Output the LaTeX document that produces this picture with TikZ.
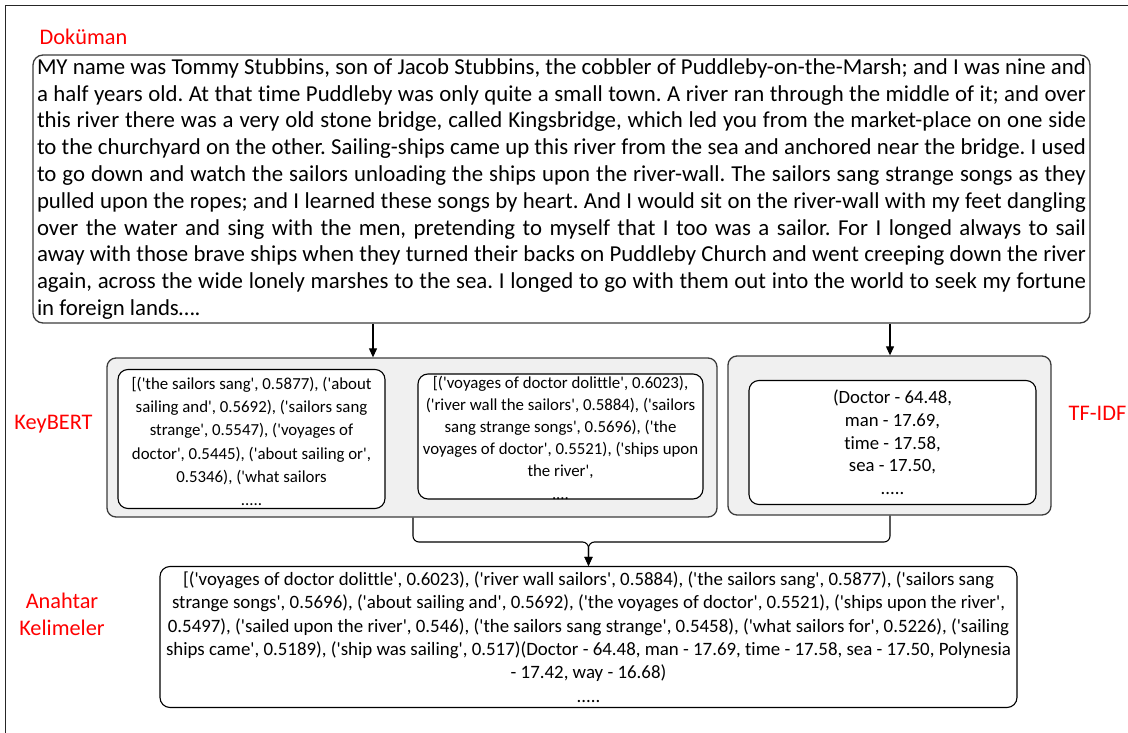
\documentclass[tikz,border=0pt]{standalone}
\usepackage{fontspec}
\setmainfont{Carlito}[Ligatures={TeXOff,NoCommon}]
\usetikzlibrary{arrows.meta}
\definecolor{labred}{RGB}{255,0,0}
\definecolor{boxgray}{RGB}{240,240,240}
\definecolor{edgegray}{RGB}{60,60,60}
\newlength\fitw
\newcommand\fitfont[3]{\settowidth\fitw{\fontsize{10pt}{12pt}\selectfont\frenchspacing #3}\pgfmathsetmacro#1{10*#2/\fitw}}
\AtBeginDocument{%
\frenchspacing
\fitfont\docsz{1048}{MY name was Tommy Stubbins, son of Jacob Stubbins, the cobbler of Puddleby-on-the-Marsh; and I was nine and}%
\fitfont\insz{240}{[('the sailors sang', 0.5877), ('about}%
\fitfont\tfsz{119}{(Doctor - 64.48,}%
\fitfont\botsz{845}{ships came', 0.5189), ('ship was sailing', 0.517)(Doctor - 64.48, man - 17.69, time - 17.58, sea - 17.50, Polynesia}%
}
\begin{document}
\begin{tikzpicture}[x=1pt,y=-1pt,
  lab/.style={text=labred, font=\fontsize{22.3pt}{27pt}\selectfont, inner sep=0pt, align=center},
  outerbox/.style={draw=edgegray, line width=1.3pt, rounded corners=9pt, fill=boxgray, inner sep=0pt},
  innerbox/.style={draw=black, line width=1.1pt, rounded corners=10pt, fill=white, inner sep=0pt, align=center},
  intext/.style={inner sep=0pt, align=center},
  conn/.style={draw=black, line width=1.1pt, rounded corners=6pt},
  arr/.style={conn, -{Triangle[length=9pt,width=8pt]}},
]
\useasboundingbox (0,0) rectangle (1128,733);
\clip (0,0) rectangle (1128,733);
% frame
\draw[line width=1.6pt, draw=black!85] (5.5,760) -- (5.5,5.5) -- (1160,5.5);
% labels
\node[lab] (ldoc) at (83.5,37) {Doküman};
\node[lab] (lkb) at (53.5,424) {KeyBERT};
\node[lab] (ltf) at (1097.5,413) {TF-IDF};
\node[lab] (lan) at (62,614) {Anahtar\\Kelimeler};
% document
\node[draw=edgegray, line width=1.3pt, rounded corners=10pt, inner xsep=4pt, inner ysep=0pt,
      minimum width=1057pt, minimum height=268pt, text width=1049pt, align=justify,
      font={\fontsize{\docsz pt}{26.8pt}\selectfont\frenchspacing\hyphenpenalty=10000\relax\exhyphenpenalty=10000\relax}]
  (doc) at (561.5,189) {MY name was Tommy Stubbins, son of Jacob Stubbins, the cobbler of Puddleby-on-the-Marsh; and I was nine and\linebreak
a half years old. At that time Puddleby was only quite a small town. A river ran through the middle of it; and over\linebreak
this river there was a very old stone bridge, called Kingsbridge, which led you from the market-place on one side\linebreak
to the churchyard on the other. Sailing-ships came up this river from the sea and anchored near the bridge. I used\linebreak
to go down and watch the sailors unloading the ships upon the river-wall. The sailors sang strange songs as they\linebreak
pulled upon the ropes; and I learned these songs by heart. And I would sit on the river-wall with my feet dangling\linebreak
over the water and sing with the men, pretending to myself that I too was a sailor. For I longed always to sail\linebreak
away with those brave ships when they turned their backs on Puddleby Church and went creeping down the river\linebreak
again, across the wide lonely marshes to the sea. I longed to go with them out into the world to seek my fortune\linebreak
in foreign lands….};
% KeyBERT group
\node[outerbox, minimum width=610pt, minimum height=159pt] (kb) at (412,437.5) {};
\node[innerbox, minimum width=267pt, minimum height=139pt] (kb1) at (251.5,439) {};
\node[intext, font=\fontsize{\insz pt}{23.3pt}\selectfont] (kb1t) at (251.5,441.5)
  {[('the sailors sang', 0.5877), ('about\\sailing and', 0.5692), ('sailors sang\\strange', 0.5547), ('voyages of\\doctor', 0.5445), ('about sailing or',\\0.5346), ('what sailors\\.....};
\node[innerbox, minimum width=285pt, minimum height=125pt] (kb2) at (560.5,436.5) {};
\node[intext, font=\fontsize{\insz pt}{22.2pt}\selectfont] (kb2t) at (560.5,437.5)
  {[('voyages of doctor dolittle', 0.6023),\\('river wall the sailors', 0.5884), ('sailors\\sang strange songs', 0.5696), ('the\\voyages of doctor', 0.5521), ('ships upon\\the river',\\....};
% TF-IDF group
\node[outerbox, minimum width=323pt, minimum height=159pt] (tf) at (889.5,435.5) {};
\node[innerbox, minimum width=287pt, minimum height=124pt, font=\fontsize{\tfsz pt}{22.7pt}\selectfont]
  (tf1) at (892.5,442.5) {(Doctor - 64.48,\\man - 17.69,\\time - 17.58,\\sea - 17.50,\\.....};
% result
\node[innerbox, minimum width=857pt, minimum height=141pt, font=\fontsize{\botsz pt}{23.3pt}\selectfont]
  (bot) at (588.5,637) {[('voyages of doctor dolittle', 0.6023), ('river wall sailors', 0.5884), ('the sailors sang', 0.5877),  ('sailors sang\\strange songs', 0.5696), ('about sailing and', 0.5692),  ('the voyages of doctor', 0.5521), ('ships upon the river',\\0.5497), ('sailed upon the river', 0.546), ('the sailors sang strange', 0.5458), ('what sailors for', 0.5226), ('sailing\\ships came', 0.5189), ('ship was sailing', 0.517)(Doctor - 64.48, man - 17.69, time - 17.58, sea - 17.50, Polynesia\\- 17.42, way - 16.68)\\.....};
% connectors
\coordinate (xa) at (373,0);
\coordinate (xb) at (890,0);
\coordinate (xc) at (413,542);
\draw[arr] (doc.south -| xa) -- (kb.north -| xa);
\draw[arr] (doc.south -| xb) -- (tf.north -| xb);
\draw[arr] (kb.south -| xc) -- (xc) -- (bot.north |- xc) -- (bot.north);
\draw[arr] (tf.south -| xb) -- (xb |- xc) -- (bot.north |- xc) -- (bot.north);
\end{tikzpicture}
\end{document}
